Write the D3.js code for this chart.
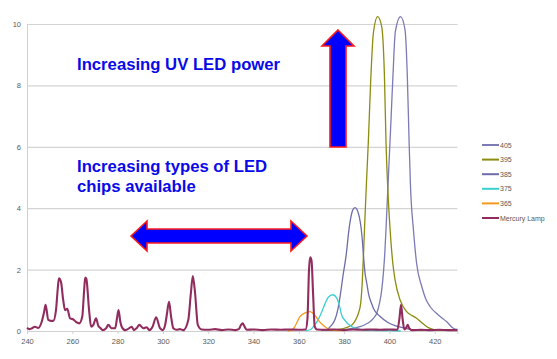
<!DOCTYPE html>
<html><head><meta charset="utf-8">
<script src="https://cdn.jsdelivr.net/npm/d3@7"></script>
<style>body{margin:0;background:#fff}svg{display:block}</style>
</head><body>
<svg id="c" width="557" height="359"></svg>
<script>
// ---- data ----
const xTicks = [240,260,280,300,320,340,360,380,400,420];
const yTicks = [0,2,4,6,8,10];
const legendLabels = ["405","395","385","375","365","Mercury Lamp"];

const wl405 = [378,381.2,384,387,389.5,391.4,393,394.4,395.6,396.6,397.4,398,398.6,399.2,399.9,400.7,401.6,402.6,404.9,406.9,407.9,408.7,409.3,410.6,412,414.3,416,418,421.6,425.3,428.2,430];
const val405 = [0.02,0.05,0.09,0.14,0.22,0.3,0.42,0.58,0.9,1.34,1.95,2.6,3.5,4.5,5.6,6.9,8.4,9.75,10.24,9.8,8.28,6.11,4.7,3.29,2.2,1.44,1.05,0.79,0.52,0.3,0.09,0.05];

const wl395 = [372,376,379.7,382,384.1,385.5,386.3,387.3,388,388.6,389.2,389.9,390.7,391.7,392.9,394.8,396.6,397.8,398.5,399.3,400.3,401.5,402.5,404.7,407.6,410,412.1,414.3,416.5,418.5,420.9,425,430];
const val395 = [0.02,0.04,0.08,0.14,0.25,0.42,0.58,0.9,1.6,2.6,3.7,4.9,6.2,8.1,9.7,10.24,9.91,8.28,6.11,4.6,3.29,2.2,1.66,1.01,0.63,0.5,0.41,0.27,0.14,0.07,0.03,0.02,0.03];

const wl385 = [370,372.3,374,376,377.2,378.2,379.5,380.8,382.3,383.8,384.8,386.3,387.8,388.6,389.2,390,390.8,392.2,392.9,395.8,399.5,403.2,406.9,410,415];
const val385 = [0.02,0.04,0.15,0.38,0.7,1.12,1.8,2.42,3.4,3.94,4.02,3.83,3.15,2.4,1.9,1.55,1.2,0.88,0.74,0.48,0.27,0.16,0.09,0.04,0.02];

const wl375 = [363,365,366.5,368.6,370,371.6,373,375,376.7,378,378.9,380.3,381.8,383.5,385.6,388.5,392,400,405];
const val375 = [0.01,0.04,0.15,0.38,0.6,0.9,1.1,1.18,1.08,0.8,0.52,0.35,0.23,0.14,0.08,0.03,0.02,0.01,0.0];

const wl365 = [355,357,358.5,360.5,362.5,365,367,369.4,371,372.3,374,376,380];
const val365 = [0,0.03,0.18,0.47,0.58,0.63,0.52,0.28,0.17,0.1,0.04,0.02,0.01];

const wlHg = [240,241,242,243.5,245,246.5,247.5,248.2,249.4,250.5,251.6,252.8,253.6,254.1,255,256,256.8,257.8,259,260.4,261.6,263.1,264.4,265.2,265.7,266.2,267.4,268.3,269.3,270.5,271.5,272.5,273.4,274.9,275.9,277.4,278.9,279.7,280.4,281.2,281.8,283.3,284.5,286.2,287.2,288.5,289.6,291.4,292.8,294,295.5,297,298.7,299.9,301,301.7,302.7,303.6,304.6,306,307.5,309,311.2,312.3,313.2,314.2,315.4,317.1,320,323,326,329,332,333.5,334.5,335.2,336,337,340,344,348,352,356,360,363,363.8,364.5,365,365.6,366.3,367,368,372,376,380,384,388,392,396,400,403.5,404.4,405.1,405.8,406.6,407.5,408.1,408.8,410,414,418,422,426,430];
const valHg = [0.1,0.06,0.08,0.14,0.1,0.3,0.6,0.85,0.36,0.33,0.33,0.68,1.4,1.72,1.6,1.0,0.68,0.72,0.41,0.38,0.3,0.25,0.47,1.3,1.74,1.7,0.68,0.14,0.2,0.41,0.16,0.09,0.03,0.09,0.2,0.09,0.09,0.4,0.68,0.3,0.14,0.03,0.06,0.14,0.03,0.1,0.2,0.09,0.12,0.03,0.15,0.45,0.09,0.03,0.2,0.52,0.95,0.47,0.09,0.04,0.06,0.03,0.36,1.2,1.79,1.23,0.2,0.05,0.04,0.06,0.03,0.05,0.03,0.06,0.2,0.25,0.15,0.04,0.05,0.03,0.05,0.04,0.05,0.04,0.05,0.4,2.0,2.4,2.3,1.2,0.15,0.05,0.04,0.05,0.03,0.05,0.04,0.05,0.04,0.05,0.04,0.4,0.85,0.4,0.05,0.12,0.2,0.08,0.03,0.04,0.03,0.04,0.03,0.03];

const seriesColors = ["#7b7bb5","#8c8c10","#6c6caa","#3ccfcf","#f59a1e","#912d5e"];

// ---- chart ----
const svg = d3.select("#c");
const x = d3.scaleLinear().domain([240,430]).range([27,457.4]);
const y = d3.scaleLinear().domain([0,10]).range([331,24]);

const yAxis = d3.axisLeft(y).tickValues(yTicks).tickSize(-(457.4-27)).tickPadding(6).tickFormat(d3.format("d"));
const gy = svg.append("g").attr("transform","translate(27,0)").call(yAxis);
gy.select(".domain").attr("stroke","#d0d0d0");
gy.selectAll(".tick line").attr("stroke","#d4d4d4").attr("stroke-width",1.2);
gy.selectAll(".tick text").attr("fill","#595959").attr("font-family","Liberation Sans, Arial, sans-serif").attr("font-size","7.5px");

const xAxis = d3.axisBottom(x).tickValues(xTicks).tickSize(3).tickPadding(5).tickFormat(d3.format("d"));
const gx = svg.append("g").attr("transform","translate(0,331)").call(xAxis);
gx.select(".domain").attr("stroke","#d0d0d0");
gx.selectAll(".tick line").attr("stroke","#d0d0d0");
gx.selectAll(".tick text").attr("fill","#595959").attr("font-family","Liberation Sans, Arial, sans-serif").attr("font-size","7.5px");

const line = d3.line().x(d=>x(d[0])).y(d=>y(d[1])).curve(d3.curveMonotoneX);

const ledData = [
  [wl405,val405],[wl395,val395],[wl385,val385],[wl375,val375],[wl365,val365]
];
ledData.forEach((s,i)=>{
  const pts = s[0].map((w,j)=>[w,s[1][j]]);
  svg.append("path").datum(pts).attr("d",line).attr("fill","none")
    .attr("stroke",seriesColors[i]).attr("stroke-width",1.3);
});
svg.append("path").datum(wlHg.map((w,j)=>[w,valHg[j]])).attr("d",line)
  .attr("fill","none").attr("stroke",seriesColors[5]).attr("stroke-width",2.1).attr("stroke-linejoin","round");

// legend
const lg = svg.append("g");
legendLabels.forEach((t,i)=>{
  const yy = 145 + i*14.6;
  lg.append("line").attr("x1",482).attr("x2",499).attr("y1",yy).attr("y2",yy)
    .attr("stroke",seriesColors[i]).attr("stroke-width",2);
  lg.append("text").attr("x",500).attr("y",yy+2.5).text(t)
    .attr("fill","#595959").attr("font-family","Liberation Sans, Arial, sans-serif").attr("font-size","7px");
});

// annotations
const txt = (s,xx,yy)=>svg.append("text").attr("x",xx).attr("y",yy).text(s)
  .attr("fill","#0a0ae8").attr("font-family","Liberation Sans, Arial, sans-serif")
  .attr("font-weight","bold").attr("font-size","16.7px");
txt("Increasing UV LED power",77,70);
txt("Increasing types of LED",77,172);
txt("chips available",77,192);

svg.append("path")
  .attr("d","M338,30 L354,46 L346,46 L346,147 L330,147 L330,46 L322,46 Z")
  .attr("fill","#0000ff").attr("stroke","#ff1a1a").attr("stroke-width",1.6);
svg.append("path")
  .attr("d","M131,236 L147,221 L147,229 L291,229 L291,221 L307,236 L291,251 L291,243 L147,243 L147,251 Z")
  .attr("fill","#0000ff").attr("stroke","#ff1a1a").attr("stroke-width",1.6);
</script>
</body></html>
